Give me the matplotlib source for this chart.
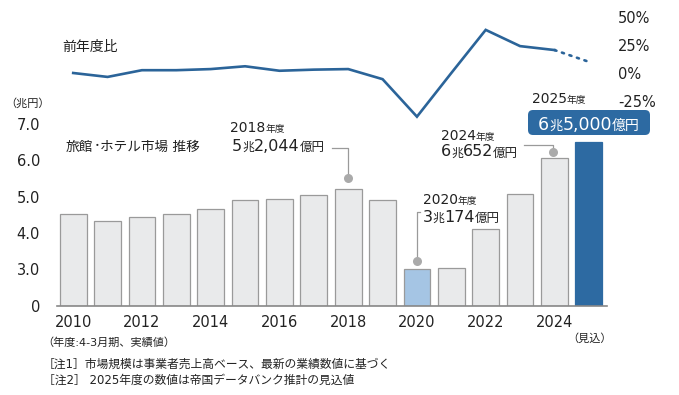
import numpy as np
import matplotlib.pyplot as plt
from matplotlib.lines import Line2D
from matplotlib.patches import FancyBboxPatch
from matplotlib.transforms import IdentityTransform

# 数字は幅広の DejaVu、和文は Noto Sans CJK JP
plt.rcParams['font.family'] = ['DejaVu Sans', 'Noto Sans CJK JP']

# データ（兆円 / 前年度比 %）
years = list(range(2010, 2026))
market = [4.53, 4.34, 4.45, 4.53, 4.66, 4.91, 4.94, 5.05, 5.2044, 4.91,
          3.0174, 3.03, 4.12, 5.07, 6.0652, 6.5]
growth = [0.0, -3.5, 2.5, 2.5, 3.5, 6.0, 2.0, 3.0, 3.5, -5.5,
          -39.0, 0.0, 38.5, 24.0, 20.5, 10.0]
xtick_years = list(range(2010, 2025, 2))
ytick_vals = [0, 3, 4, 5, 6, 7]
ytick_labels = ['0', '3.0', '4.0', '5.0', '6.0', '7.0']
pct_ticks = [-25, 0, 25, 50]
pct_labels = ['-25%', '0%', '25%', '50%']

W, H = 679, 395
TXT = '#222222'
LINE = '#2b6499'
GRAY = '#9a9a9a'

fig = plt.figure(figsize=(W / 100, H / 100), dpi=100)
ident = IdentityTransform()


def fwd(v):
    v = np.asarray(v, dtype=float)
    return np.where(v >= 3, v - 2, v / 3)


def inv(d):
    d = np.asarray(d, dtype=float)
    return np.where(d >= 1, d + 2, d * 3)


# === 棒グラフ
ax = fig.add_axes([56.7 / W, (H - 305.5) / H, 550 / W, 199.7 / H])
ax.set_yscale('function', functions=(fwd, inv))
colors = ['#e9eaeb'] * len(years)
colors[years.index(2020)] = '#a5c5e4'
colors[years.index(2025)] = '#2d6aa2'
edges = [GRAY] * len(years)
edges[years.index(2025)] = '#2d6aa2'
ax.bar(years, market, width=0.78, color=colors, edgecolor=edges, linewidth=0.9)
ax.set_xlim(2009.52, 2025.52)
ax.set_ylim(0, 7.5)
ax.set_xticks(xtick_years, [str(y) for y in xtick_years])
ax.set_yticks(ytick_vals, ytick_labels)
ax.tick_params(axis='x', length=0, pad=7, labelsize=10.5, labelcolor=TXT)
ax.tick_params(axis='y', length=0, pad=12, labelsize=10.5, labelcolor=TXT)
ax.yaxis.set_minor_locator(plt.NullLocator())
for s in ['top', 'right', 'left']:
    ax.spines[s].set_visible(False)
ax.spines['bottom'].set_color('#888888')
ax.spines['bottom'].set_linewidth(1.2)
ax.patch.set_alpha(0)

# === 前年度比
ax2 = fig.add_axes([56.7 / W, (H - 123.4) / H, 550 / W, 112 / H])
ax2.plot(years[:-1], growth[:-1], color=LINE, lw=1.9, solid_joinstyle='miter')
ax2.plot(years[-2:], growth[-2:], color=LINE, lw=1.9, linestyle=(0, (0.8, 2.2)),
         dash_capstyle='round')
ax2.set_xlim(2009.52, 2025.52)
ax2.set_ylim(-45, 55)
ax2.yaxis.tick_right()
ax2.set_yticks(pct_ticks, pct_labels)
ax2.set_xticks([])
ax2.tick_params(axis='y', length=0, pad=8, labelsize=10.5, labelcolor=TXT)
for s in ax2.spines.values():
    s.set_visible(False)
ax2.patch.set_alpha(0)

renderer = fig.canvas.get_renderer()


def P(x, y):
    return x, H - y


def rich(x, base, parts, color=TXT, center=False):
    texts = []
    x0 = x
    for s, size in parts:
        t = fig.text(x, H - base, s, fontsize=size, color=color, va='baseline',
                     ha='left', transform=ident)
        x = t.get_window_extent(renderer).x1
        texts.append(t)
    if center:
        shift = (x - x0) / 2
        for t in texts:
            t.set_x(t.get_position()[0] - shift)
    return x


def pix(year, value):
    px, py = ax.transData.transform((year, value))
    return px, H - py


def leader(pts):
    xs = [p[0] for p in pts]
    ys = [H - p[1] for p in pts]
    fig.add_artist(Line2D(xs, ys, color=GRAY, lw=0.9, transform=ident))
    fig.add_artist(Line2D([xs[-1]], [ys[-1]], marker='o', ms=6.5, color='#aaaaaa',
                          mec='none', transform=ident))


# 見出し
fig.text(*P(62, 47), '前年度比', fontsize=10, color=TXT, va='center', transform=ident)
rich(66, 150.5, [('旅館', 9.8), ('･', 9.8), ('ホテル市場 推移', 9.8)])
fig.text(*P(5, 103), '（兆円）', fontsize=8, color=TXT, va='center', transform=ident)

# 2018
bx, by = pix(2018, market[years.index(2018)])
rich(230, 132.3, [('2018', 10), ('年度', 7)])
end = rich(232, 151, [('5', 11.5), ('兆', 8.5), ('2,044', 11.5), ('億円', 9)])
leader([(end + 7, 147.5), (bx, 147.5), (bx, by - 11)])

# 2020
bx, by = pix(2020, market[years.index(2020)])
rich(422.5, 204.3, [('2020', 10), ('年度', 7)])
rich(422.5, 221.5, [('3', 11.5), ('兆', 8.5), ('174', 11.5), ('億円', 9)])
leader([(bx + 3.5, 212), (bx, 212), (bx, by - 8)])

# 2024
bx, by = pix(2024, market[years.index(2024)])
rich(441, 140, [('2024', 10), ('年度', 7)])
end = rich(441, 156.5, [('6', 11.5), ('兆', 8.5), ('652', 11.5), ('億円', 9)])
leader([(end + 6, 144.5), (bx - 1.5, 144.5), (bx - 1.5, by - 6)])

# 2025（見込）
fig.add_artist(FancyBboxPatch((528, H - 135), 122, 25,
                              boxstyle='round,pad=0,rounding_size=5',
                              fc='#2d6aa2', ec='none', transform=ident))
rich(532, 103.3, [('2025', 10), ('年度', 7)])
rich(589, 129.5, [('6', 12.5), ('兆', 9.5), ('5,000', 12.5), ('億円', 10)],
     color='white', center=True)

# 注記
fig.text(*P(42, 342.5), '（年度:4-3月期、実績値）', fontsize=8, color=TXT, va='center',
         transform=ident)
fig.text(*P(567, 338.5), '（見込）', fontsize=8, color=TXT, va='center', transform=ident)
fig.text(*P(43, 364.5), '［注1］市場規模は事業者売上高ベース、最新の業績数値に基づく',
         fontsize=8.5, color=TXT, va='center', transform=ident)
fig.text(*P(43, 380.5), '［注2］ 2025年度の数値は帝国データバンク推計の見込値',
         fontsize=8.5, color=TXT, va='center', transform=ident)

fig.savefig('out.png', dpi=100)
